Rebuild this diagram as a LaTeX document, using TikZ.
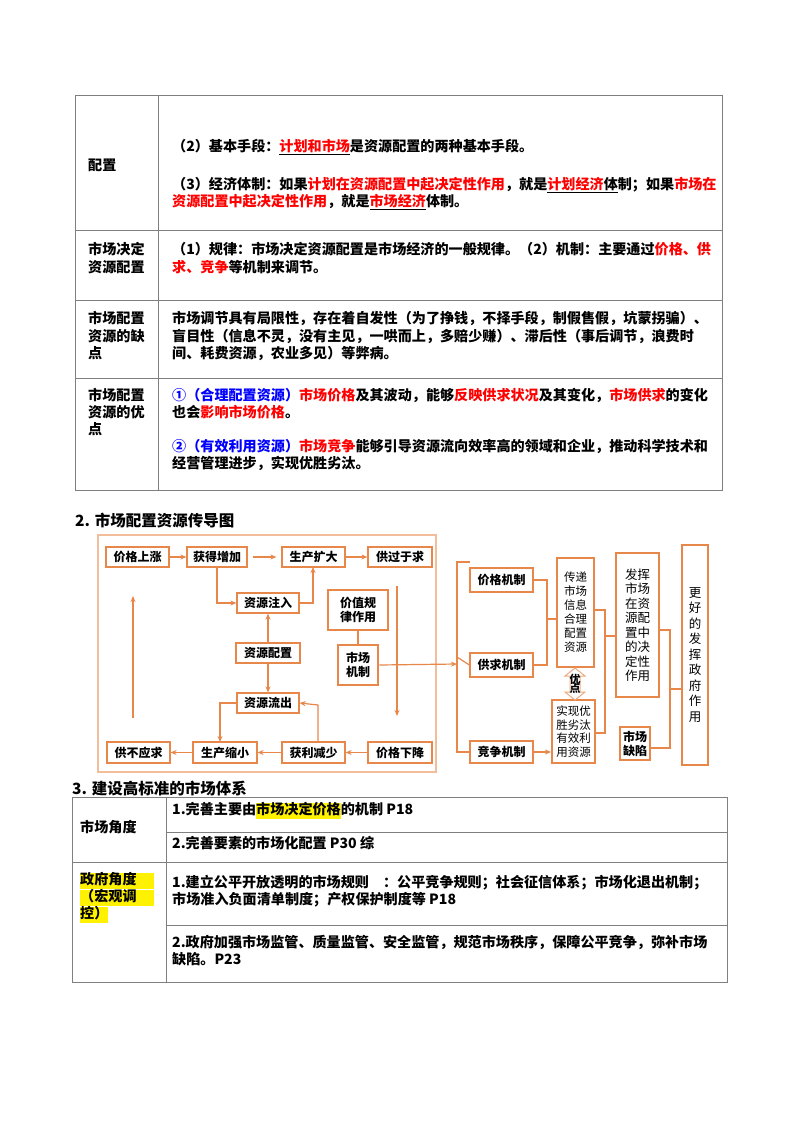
\documentclass[tikz,border=0pt]{standalone}
\usepackage{fontspec}
\setmainfont{Noto Sans CJK SC}
\usetikzlibrary{arrows.meta}
\definecolor{og}{HTML}{E8874A}
\definecolor{tl}{HTML}{7F7F7F}
\newcommand\rd[1]{\textcolor{red}{#1}}
\newcommand\ru[1]{\underline{\textcolor{red}{#1}}}
\newcommand\bl[1]{\textcolor{blue}{#1}}
\newcommand\yl[1]{{\setlength{\fboxsep}{0pt}\colorbox{yellow}{\strut #1}}}
\newcommand\lbl[1]{\makebox[62pt][s]{#1}}
\begin{document}
\begin{tikzpicture}[x=1pt,y=-1pt,
 tx/.style={anchor=west,inner sep=0pt,font=\fontsize{14.1}{15}\selectfont\bfseries},
 bx/.style={draw=og,line width=1.2pt,inner sep=0pt,align=center,font=\fontsize{12}{14}\selectfont\bfseries},
 tk/.style={bx,line width=2.6pt},
 ln/.style={draw=og,line width=1.2pt},
 ar/.style={ln,-{Stealth[length=6pt,width=5pt]}},
 tb/.style={draw=tl,line width=1pt}]
\useasboundingbox (0,0) rectangle (800,1132);
\fill[white] (0,0) rectangle (800,1132);
% ---------- table 1
\draw[tb] (75,95) rectangle (722,490);
\draw[tb] (158,95) -- (158,490);
\foreach \y in {230,300,378} \draw[tb] (75,\y) -- (722,\y);
\node[tx] (l1) at (88,165) {配置};
\node[tx] (t11) at (172,147) {（2）基本手段：\ru{计划和市场}是资源配置的两种基本手段。};
\node[tx] (t12) at (172,185) {（3）经济体制：如果\rd{计划在资源配置中起决定性作用}，就是\underline{\textcolor{red}{计划经济}体}制；如果\rd{市场在}};
\node[tx] (t13) at (172,202) {\rd{资源配置中起决定性作用}，就是\ru{市场经济}体制。};
\node[tx] (l21) at (88,249) {\lbl{市场决定}};
\node[tx] (l22) at (88,267) {资源配置};
\node[tx] (t21) at (172,249) {（1）规律：市场决定资源配置是市场经济的一般规律。（2）机制：主要通过\rd{价格、供}};
\node[tx] (t22) at (172,267) {\rd{求、竞争}等机制来调节。};
\node[tx] (l31) at (88,318) {\lbl{市场配置}};
\node[tx] (l32) at (88,336) {\lbl{资源的缺}};
\node[tx] (l33) at (88,353) {点};
\node[tx] (t31) at (172,318) {市场调节具有局限性，存在着自发性（为了挣钱，不择手段，制假售假，坑蒙拐骗）、};
\node[tx] (t32) at (172,336) {盲目性（信息不灵，没有主见，一哄而上，多赔少赚）、滞后性（事后调节，浪费时};
\node[tx] (t33) at (172,353) {间、耗费资源，农业多见）等弊病。};
\node[tx] (l41) at (88,395) {\lbl{市场配置}};
\node[tx] (l42) at (88,412) {\lbl{资源的优}};
\node[tx] (l43) at (88,429) {点};
\node[tx] (t41) at (172,395) {\bl{①（合理配置资源）}\rd{市场价格}及其波动，能够\rd{反映供求状况}及其变化，\rd{市场供求}的变化};
\node[tx] (t42) at (172,412) {也会\rd{影响市场价格}。};
\node[tx] (t43) at (172,446) {\bl{②（有效利用资源）}\rd{市场竞争}能够引导资源流向效率高的领域和企业，推动科学技术和};
\node[tx] (t44) at (172,463) {经营管理进步，实现优胜劣汰。};
% ---------- heading 2
\node[anchor=west,inner sep=0pt,font=\fontsize{15.5}{16}\selectfont\bfseries] (h2) at (75,521) {2. 市场配置资源传导图};
% ---------- diagram left
\draw[draw=og!55,line width=1.4pt] (98,535) rectangle (436,772);
\node[bx,minimum width=63,minimum height=20] (a1) at (137.5,557) {价格上涨};
\node[bx,minimum width=60,minimum height=20] (a2) at (217,557) {获得增加};
\node[bx,minimum width=63,minimum height=20] (a3) at (313.5,557) {生产扩大};
\node[bx,minimum width=64,minimum height=20] (a4) at (400,557) {供过于求};
\node[bx,minimum width=62,minimum height=20] (zr) at (268,603) {资源注入};
\node[tk,minimum width=60,minimum height=40] (jz) at (358,610) {价值规\\律作用};
\node[tk,minimum width=64,minimum height=20] (pz) at (268,653) {资源配置};
\node[tk,minimum width=40,minimum height=40] (jz2) at (358,665) {市场\\机制};
\node[bx,minimum width=62,minimum height=20] (lc) at (268,703) {资源流出};
\node[bx,minimum width=63,minimum height=21] (b1) at (138.5,752.5) {供不应求};
\node[bx,minimum width=64,minimum height=21] (b2) at (225,752.5) {生产缩小};
\node[bx,minimum width=63,minimum height=21] (b3) at (313.5,752.5) {获利减少};
\node[bx,minimum width=64,minimum height=21] (b4) at (400,752.5) {价格下降};
\draw[ar] (a1) -- (a2);
\draw[ar] ([xshift=5pt]a2.east) -- ([xshift=-5pt]a3.west);
\draw[ar] (a3) -- (a4);
\draw[ar] (a2.south) -- (217,603) -- (zr.west);
\draw[ar] (zr.east) -- (313,603) -- (313,567);
\draw[ar] (pz) -- (zr);
\draw[ar] (pz) -- (lc);
\draw[ln] (jz) -- (jz2);
\coordinate (lu1) at (133,718); \coordinate (lu2) at (133,596);
\draw[ar] (lu1) -- (lu2);
\coordinate (rd1) at (397,586); \coordinate (rd2) at (397,716);
\draw[ar] (rd1) -- (rd2);
\draw[ar] (b4) -- (b3);
\draw[ar] (b3) -- (b2);
\draw[ar] (b2) -- (b1);
\draw[ar] (b3.north -| 318,0) -- (318,705) -- (lc.east);
\draw[ar] (lc.west) -- (220,703) -- (220,742);
% ---------- diagram right
\coordinate (br) at (457,664);
\draw[ar] (jz2.east) -- (br);
\node[bx,minimum width=63,minimum height=24] (m1) at (501.5,580) {价格机制};
\node[bx,minimum width=63,minimum height=24] (m2) at (501.5,665) {供求机制};
\node[bx,minimum width=63,minimum height=22] (m3) at (501.5,752) {竞争机制};
\draw[ln] (470,562) -- (457,562) -- (457,752) -- (m3.west);
\draw[ln] (457,657) -- (m2.west);
\node[tk,minimum width=37,minimum height=109,font=\fontsize{11.5}{14}\selectfont] (c1) at (575.5,612.5) {传递\\市场\\信息\\合理\\配置\\资源};
\node[bx,line width=2pt,minimum width=43,minimum height=63,font=\fontsize{11.5}{13.5}\selectfont] (c2) at (573.5,731.5) {实现优\\胜劣汰\\有效利\\用资源};
\draw[draw=og!70,line width=1pt,fill=white] (575,668) -- (585,676) -- (580,676) -- (580,692) -- (585,692) -- (575,700) -- (565,692) -- (570,692) -- (570,676) -- (565,676) -- cycle;
\node[inner sep=0pt,font=\fontsize{11}{12}\selectfont\bfseries,align=center] (ydt) at (575,684) {优\\[-3pt]点};
\node[bx,minimum width=43,minimum height=144,font=\fontsize{12.5}{14.5}\selectfont] (f1) at (637.5,625) {发挥\\市场\\在资\\源配\\置中\\的决\\定性\\作用};
\node[bx,minimum width=30,minimum height=33] (f2) at (635,743.5) {市场\\缺陷};
\node[bx,minimum width=26,minimum height=220,font=\fontsize{12.5}{15.5}\selectfont] (g1) at (695,655) {更\\好\\的\\发\\挥\\政\\府\\作\\用};
\draw[ln] (m1.east) -- (547,580) -- (547,665) -- (m2.east);
\draw[ln] (547,619) -- (c1.west |- 0,619);
\draw[ar] (m3.east) -- (c2.west |- 0,752);
\draw[ln] (c1.east |- 0,610) -- (605,610) -- (605,733) -- (c2.east |- 0,733);
\draw[ln] (605,636) -- (f1.west |- 0,636);
\draw[ln] (f1.east |- 0,630) -- (670,630) -- (670,748) -- (f2.east |- 0,748);
\draw[ln] (670,689) -- (g1.west |- 0,689);
% ---------- heading 3 and table 3
\node[anchor=west,inner sep=0pt,font=\fontsize{15.5}{16}\selectfont\bfseries] (h3) at (72,789) {3. 建设高标准的市场体系};
\draw[tb] (72,797) rectangle (727,982);
\draw[tb] (166,797) -- (166,982);
\draw[tb] (72,862) -- (727,862);
\draw[tb] (166,832) -- (727,832);
\draw[tb] (166,925) -- (727,925);
\node[tx] (m31) at (80,827) {市场角度};
\node[tx] (m32) at (80,881) {\yl{\makebox[74pt][s]{政府角度}}};
\node[tx] (m33) at (80,898) {\yl{\makebox[74pt][s]{（宏观调}}};
\node[tx] (m34) at (80,915) {\yl{控）}};
\node[tx] (s1) at (172,811) {1.完善主要由\yl{市场决定价格}的机制 P18};
\node[tx] (s2) at (172,843) {2.完善要素的市场化配置 P30 综};
\node[tx] (s3) at (172,883) {1.建立公平开放透明的市场规则\quad：公平竞争规则；社会征信体系；市场化退出机制；};
\node[tx] (s4) at (172,900) {市场准入负面清单制度；产权保护制度等 P18};
\node[tx] (s5) at (172,942) {2.政府加强市场监管、质量监管、安全监管，规范市场秩序，保障公平竞争，弥补市场};
\node[tx] (s6) at (172,959) {缺陷。P23};
\end{tikzpicture}
\end{document}
